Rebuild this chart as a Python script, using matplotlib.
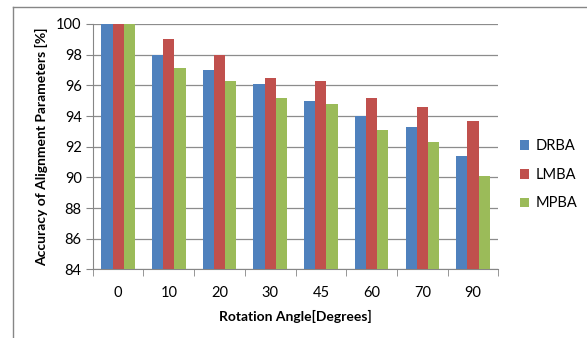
import matplotlib.pyplot as plt
import numpy as np
from matplotlib.lines import Line2D

angles = ["0", "10", "20", "30", "45", "60", "70", "90"]
drba = [100, 98.0, 97.0, 96.1, 95.0, 94.0, 93.3, 91.4]
lmba = [100, 99.0, 98.0, 96.5, 96.3, 95.2, 94.6, 93.7]
mpba = [100, 97.1, 96.3, 95.2, 94.8, 93.1, 92.3, 90.1]
series = ["DRBA", "LMBA", "MPBA"]
colors = ["#4F81BD", "#C0504D", "#9BBB59"]


def main() -> None:
    plt.rcParams["font.family"] = ["Lato", "DejaVu Sans"]
    fig = plt.figure(figsize=(5.87, 3.38), dpi=100)
    ax = fig.add_axes([0.158, 0.203, 0.691, 0.726])

    x = np.arange(len(angles))
    w = 0.22
    for i, (vals, name, col) in enumerate(zip([drba, lmba, mpba], series, colors)):
        ax.bar(x + (i - 1) * w, np.array(vals) - 84, bottom=84, width=w,
               color=col, label=name, zorder=3)

    ax.set_ylim(84, 100)
    ax.set_xlim(-0.5, len(angles) - 0.5)
    ax.set_yticks(range(84, 101, 2))
    ax.set_xticks(x)
    ax.set_xticklabels(angles)
    ax.set_xticks(np.arange(-0.5, len(angles), 1), minor=True)
    ax.tick_params(axis="x", which="major", length=0, pad=12, labelsize=10.5)
    ax.tick_params(axis="x", which="minor", length=5, color="#868686")
    ax.tick_params(axis="y", length=5, color="#868686", labelsize=10.5, pad=3)
    ax.yaxis.grid(True, color="#8c8c8c", linewidth=0.9, zorder=0)
    ax.set_axisbelow(True)
    for s in ["top", "right"]:
        ax.spines[s].set_visible(False)
    for s in ["left", "bottom"]:
        ax.spines[s].set_color("#868686")

    ax.set_xlabel("Rotation Angle[Degrees]", fontsize=10, fontweight="bold", labelpad=7)
    ax.set_ylabel("Accuracy of Alignment Parameters [%]", fontsize=10,
                  fontweight="bold", labelpad=6)

    ax.legend(loc="center left", bbox_to_anchor=(1.02, 0.385), frameon=False,
              fontsize=10.5, handlelength=0.65, handleheight=0.65,
              handletextpad=0.45, labelspacing=1.0)

    # chart border (clipped at right and bottom)
    fig.add_artist(Line2D([13 / 587, 1], [1 - 7 / 338] * 2, color="#868686",
                          linewidth=1, transform=fig.transFigure))
    fig.add_artist(Line2D([13 / 587] * 2, [0, 1 - 7 / 338], color="#868686",
                          linewidth=1, transform=fig.transFigure))

    fig.savefig("out.png", dpi=100)


if __name__ == "__main__":
    main()
